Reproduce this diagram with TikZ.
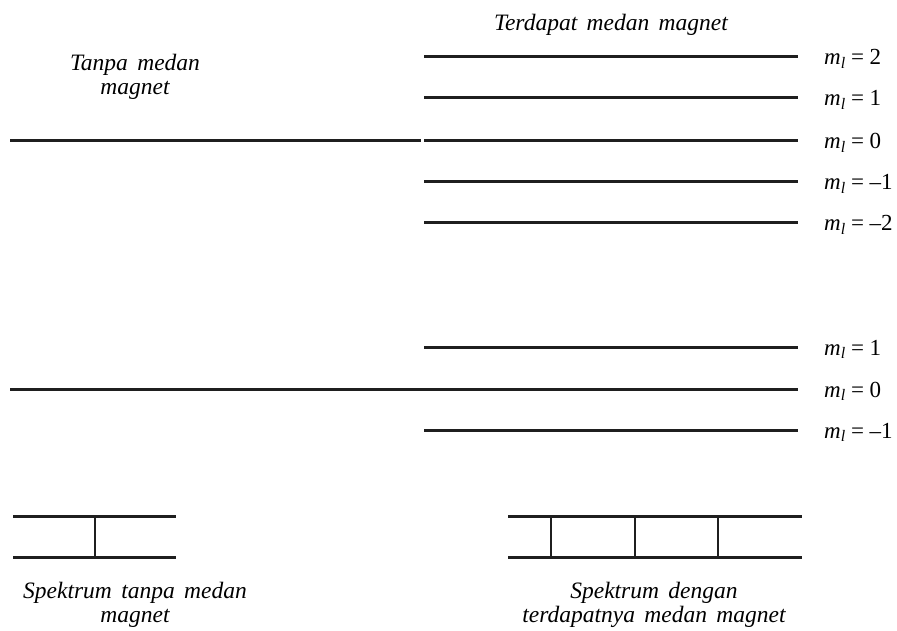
\documentclass[tikz,border=0pt]{standalone}
\usepackage{fontspec}
\setmainfont{Liberation Serif}
\usepackage{tikz}
\newcommand{\mlv}[1]{\textit{m}\raisebox{-0.35ex}{\fontsize{16}{16}\selectfont\textit{l}}\hspace{0.25em}=\hspace{0.25em}#1}
\newcommand{\capfont}{\fontsize{23.5}{24}\selectfont\itshape\spaceskip=0.4em plus 0.1em\relax}
\begin{document}
\begin{tikzpicture}[x=1pt,y=-1pt,
  lvl/.style={line width=3pt,black!88},
  tk/.style={line width=2.2pt,black!88},
  mlabel/.style={anchor=base west,inner sep=0pt,font=\fontsize{23}{24}\selectfont},
  captxt/.style={anchor=base,inner sep=0pt,align=center,font=\capfont}]
\useasboundingbox (0,0) rectangle (897,631);
% captions (base = baseline of last line)
\node[captxt] (t1) at (611,31) {Terdapat medan magnet};
\node[captxt] (t2) at (135,95) {Tanpa medan\\magnet};
\node[captxt] (t3) at (135,622) {Spektrum tanpa medan\\magnet};
\node[captxt] (t4) at (654,622) {Spektrum dengan\\terdapatnya medan magnet};
% upper levels
\draw[lvl] (10,141) -- (421,141);
\foreach \y/\m in {57/2,98/1,141/0,182/–1,223/–2}{
  \draw[lvl] (424,\y) -- (798,\y);
  \node[mlabel] at (824,\y+8) {\mlv{\m}};
}
% lower levels
\draw[lvl] (10,389) -- (798,389);
\foreach \y in {347,430}{\draw[lvl] (424,\y) -- (798,\y);}
\foreach \y/\m in {347/1,389/0,430/–1}{
  \node[mlabel] at (824,\y+8) {\mlv{\m}};
}
% spectra
\draw[lvl] (13,516) -- (176,516);
\draw[lvl] (13,557) -- (176,557);
\draw[tk] (95,516) -- (95,557);
\draw[lvl] (508,516) -- (802,516);
\draw[lvl] (508,557) -- (802,557);
\foreach \x in {551,635,718}{\draw[tk] (\x,516) -- (\x,557);}
\end{tikzpicture}
\end{document}
